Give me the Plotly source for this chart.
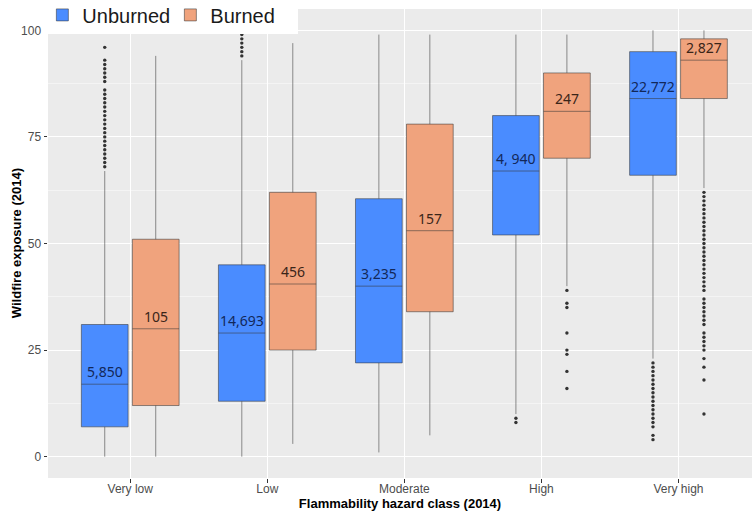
import plotly.graph_objects as go

# Flammability hazard classes (x axis categories)
classes = ["Very low", "Low", "Moderate", "High", "Very high"]

# Unburned parcels: box statistics of wildfire exposure per class
unburned_lower = [0, 0, 1, 10, 23]
unburned_q1 = [7, 13, 22, 52, 66]
unburned_median = [17, 29, 40, 67, 84]
unburned_q3 = [31, 45, 60.5, 80, 95]
unburned_upper = [67, 93, 99, 99, 100]
unburned_counts = ["5,850", "14,693", "3,235", "4, 940", "22,772"]
unburned_outliers = [
    [96, 93, 92, 91, 90, 89, 88, 86, 85, 84, 83, 82, 81, 80, 79, 78, 77,
     76, 75, 74, 73, 72, 71, 70, 69, 68],
    [100, 99, 98, 97, 96, 95, 94],
    [],
    [9, 8],
    [22, 21, 20, 19, 18, 17, 16, 15, 14, 13, 12, 11, 10, 9, 8, 7, 5, 4],
]

# Burned parcels: box statistics of wildfire exposure per class
burned_lower = [0, 3, 5, 40, 63]
burned_q1 = [12, 25, 34, 70, 84]
burned_median = [30, 40.5, 53, 81, 93]
burned_q3 = [51, 62, 78, 90, 98]
burned_upper = [94, 97, 99, 99, 100]
burned_counts = ["105", "456", "157", "247", "2,827"]
burned_outliers = [
    [],
    [],
    [],
    [39, 36, 35, 29, 25, 24, 20, 16],
    [62, 61, 60, 59, 58, 57, 56, 55, 54, 53, 52, 51, 50, 49, 48, 47, 46,
     45, 44, 43, 42, 41, 40, 39, 37, 36, 35, 34, 33, 32, 31, 29, 28, 27,
     26, 25, 23, 21, 18, 10],
]

y_ticks = [0, 25, 50, 75, 100]

DODGE = 0.186
BOX_W = 0.341
BLUE = "#4A8CFF"
ORANGE = "#F0A37D"
BOX_LINE = "rgba(55,55,55,0.55)"
DOT = "#333333"

series = [
    ("Unburned", -DODGE, BLUE, "#12285A", unburned_lower, unburned_q1,
     unburned_median, unburned_q3, unburned_upper, unburned_counts, unburned_outliers),
    ("Burned", DODGE, ORANGE, "#3A2519", burned_lower, burned_q1,
     burned_median, burned_q3, burned_upper, burned_counts, burned_outliers),
]

fig = go.Figure()
annotations = []

for (name, off, fill, label_col, lo, q1, med, q3, up, counts, outs) in series:
    pos = [i + 1 + off for i in range(len(classes))]
    fig.add_trace(go.Box(
        name=name,
        x=pos,
        q1=q1, median=med, q3=q3,
        lowerfence=lo, upperfence=up,
        orientation="v",
        width=BOX_W,
        whiskerwidth=0,
        fillcolor=fill,
        line=dict(color=BOX_LINE, width=1),
        boxpoints=False,
        hoverinfo="skip",
    ))
    ox, oy = [], []
    for p, vals in zip(pos, outs):
        ox += [p] * len(vals)
        oy += vals
    fig.add_trace(go.Scatter(
        x=ox, y=oy, mode="markers", showlegend=False, hoverinfo="skip",
        marker=dict(color=DOT, size=3.4, line=dict(width=0)),
    ))
    for p, m, c in zip(pos, med, counts):
        annotations.append(dict(
            x=p, y=m, xref="x", yref="y", text=c, showarrow=False,
            yanchor="bottom", yshift=1,
            font=dict(family="Noto Sans", size=14, color=label_col),
        ))

tick_font = dict(family="Liberation Sans, Arial", size=12, color="#4D4D4D")
title_font = dict(family="Liberation Sans, Arial", size=13, color="#000000")

# y axis title placed as a rotated annotation just left of the tick labels
annotations.append(dict(
    x=-0.0445, y=0.5, xref="paper", yref="paper", xanchor="center", yanchor="middle",
    text="<b>Wildfire exposure (2014)</b>", textangle=-90, showarrow=False,
    font=title_font,
))

fig.update_layout(
    width=752, height=514,
    margin=dict(l=48.3, r=0, t=8.65, b=35.6, autoexpand=False),
    paper_bgcolor="white",
    plot_bgcolor="#EBEBEB",
    boxmode="overlay",
    showlegend=True,
    legend=dict(
        orientation="h", x=-0.008, y=1.029, xanchor="left", yanchor="top",
        entrywidth=83, entrywidthmode="pixels",
        bgcolor="white", font=dict(family="Liberation Sans, Arial", size=20, color="#1A1A1A"),
        itemclick=False,
    ),
    annotations=annotations,
)

fig.update_xaxes(
    range=[0.4, 5.5365],
    tickmode="array", tickvals=[i + 1 for i in range(len(classes))], ticktext=classes,
    showgrid=True, gridcolor="white", gridwidth=1,
    zeroline=False, showline=False,
    ticks="outside", ticklen=3.5, tickcolor="#333333", tickwidth=1,
    tickfont=tick_font, ticklabelstandoff=-4,
    title=dict(text="<b>Flammability hazard class (2014)</b>", font=title_font, standoff=0),
)
fig.update_yaxes(
    range=[-5, 105],
    tickmode="array", tickvals=y_ticks,
    showgrid=True, gridcolor="white", gridwidth=1,
    minor=dict(dtick=12.5, tick0=0, showgrid=True, gridcolor="#F4F4F4", gridwidth=0.6, ticks=""),
    zeroline=False, showline=False,
    ticks="outside", ticklen=3.5, tickcolor="#333333", tickwidth=1,
    tickfont=tick_font,
)

fig.write_html("out.html")
